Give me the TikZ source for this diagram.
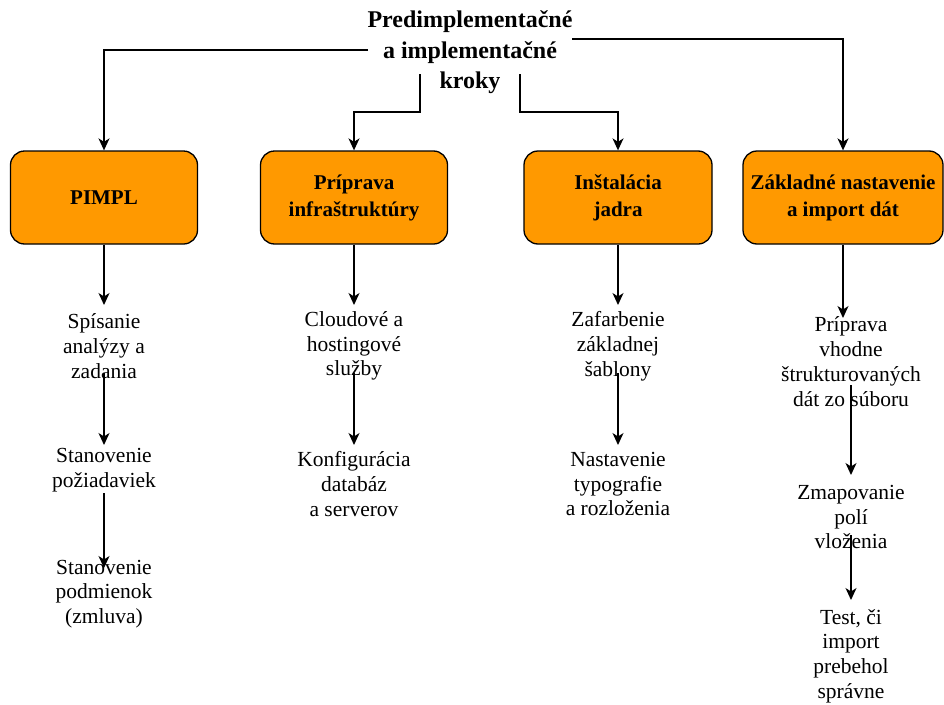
\documentclass[tikz,border=0pt]{standalone}
\usepackage{fontspec}
\setmainfont{Liberation Serif}
\usetikzlibrary{arrows.meta,calc}
\definecolor{boxorange}{HTML}{FF9900}
\tikzset{
  phase/.style={draw=black, line width=1.3pt, fill=boxorange, rounded corners=14pt,
    minimum height=93pt, align=center, inner sep=2pt,
    font=\rmfamily\bfseries\fontsize{21}{27}\selectfont},
  stepnote/.style={align=center, inner sep=0pt,
    font=\rmfamily\mdseries\fontsize{21.5}{24.8}\selectfont},
  heading/.style={align=center, inner sep=0pt,
    font=\rmfamily\bfseries\fontsize{24}{30.5}\selectfont},
  arr/.style={draw=black, line width=1.4pt, -{Stealth[length=12pt,width=11pt,inset=3.5pt]}}
}
\begin{document}
\begin{tikzpicture}[x=1pt,y=-1pt]
\useasboundingbox (0,0) rectangle (944,704);

% heading
\node[heading] (title) at (470,52.5) {Predimplementačné\\a implementačné\\kroky};

% phase boxes
\node[phase, minimum width=187pt] (b1) at (104,197.5) {PIMPL};
\node[phase, minimum width=187pt] (b2) at (354,197.5) {Príprava\\infraštruktúry};
\node[phase, minimum width=188pt] (b3) at (618,197.5) {Inštalácia\\jadra};
\node[phase, minimum width=200pt] (b4) at (843,197.5) {Základné nastavenie\\a import dát};

% heading to phases
\draw[arr] ($(title.center)+(-102,-2.5)$) -| (b1.north);
\draw[arr] ($(title.center)+(102,-13.5)$) -| (b4.north);
\draw[arr] ($(title.center)+(-50,21.5)$) -- ++(0,38) -| (b2.north);
\draw[arr] ($(title.center)+(50,21.5)$) -- ++(0,38) -| (b3.north);

% column 1
\node[stepnote] (s11) at (104,346) {Spísanie\\analýzy a\\zadania};
\node[stepnote] (s12) at (104,470) {Stanovenie\\požiadaviek};
\node[stepnote] (s13) at (104,594) {Stanovenie\\podmienok\\(zmluva)};
\draw[arr] (b1.south) -- ($(s11.center)+(0,-41)$);
\draw[arr] ($(s11.center)+(0,27)$) -- ($(s12.center)+(0,-25)$);
\draw[arr] ($(s12.center)+(0,23)$) -- ($(s13.center)+(0,-26)$);

% column 2
\node[stepnote] (s21) at (354,346) {Cloudové a\\hostingové\\služby};
\node[stepnote] (s22) at (354,484) {Konfigurácia\\databáz\\a serverov};
\draw[arr] (b2.south) -- ($(s21.center)+(0,-41)$);
\draw[arr] ($(s21.center)+(0,27)$) -- ($(s22.center)+(0,-39)$);

% column 3
\node[stepnote] (s31) at (618,346) {Zafarbenie\\základnej\\šablony};
\node[stepnote] (s32) at (618,484) {Nastavenie\\typografie\\a rozloženia};
\draw[arr] (b3.south) -- ($(s31.center)+(0,-41)$);
\draw[arr] ($(s31.center)+(0,27)$) -- ($(s32.center)+(0,-39)$);

% column 4
\node[stepnote] (s41) at (851,361.5) {Príprava\\vhodne\\štrukturovaných\\dát zo súboru};
\node[stepnote] (s42) at (851,517) {Zmapovanie\\polí\\vloženia};
\node[stepnote] (s43) at (851,656) {Test, či\\import\\prebehol\\správne};
\coordinate (t41) at (843,318);
\draw[arr] (b4.south) -- (t41);
\draw[arr] ($(s41.center)+(0,23.5)$) -- ($(s42.center)+(0,-42)$);
\draw[arr] ($(s42.center)+(0,18)$) -- ($(s43.center)+(0,-56)$);
\end{tikzpicture}
\end{document}
